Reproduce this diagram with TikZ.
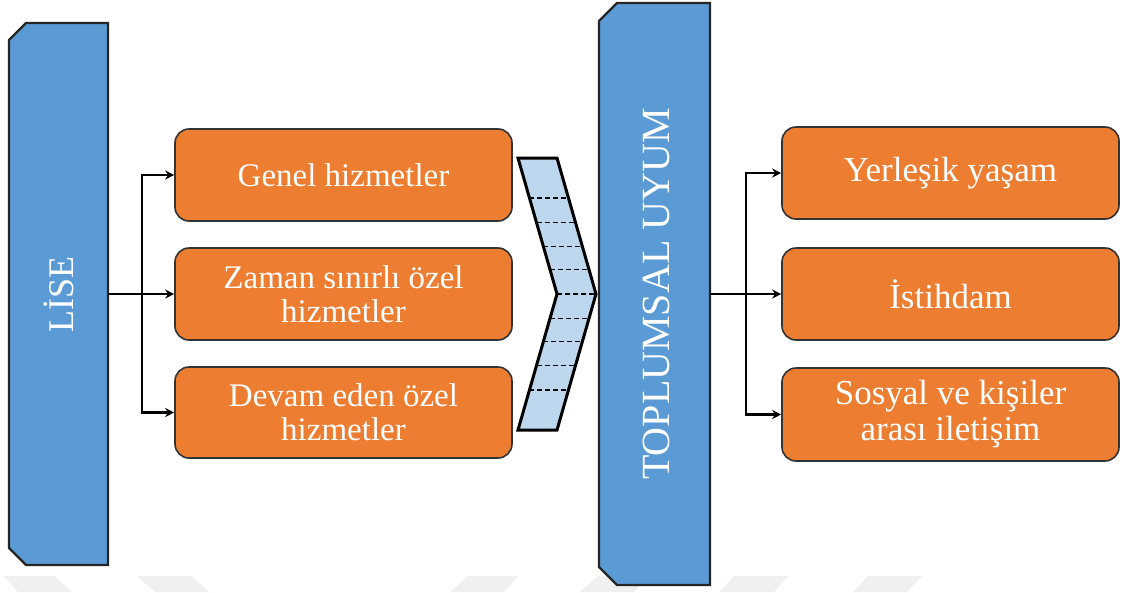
\documentclass[tikz,border=0pt]{standalone}
\usepackage{fontspec}
\setmainfont{Liberation Serif}
\usetikzlibrary{arrows.meta,calc}
\definecolor{bluebox}{HTML}{5B9BD5}
\definecolor{orangebox}{HTML}{ED7D31}
\definecolor{chevronfill}{HTML}{BDD7EE}
\definecolor{wmark}{HTML}{F0F0F0}
\tikzset{
  obox/.style={draw=black!80, line width=1.6pt, fill=orangebox, rounded corners=14pt,
    minimum width=337pt, minimum height=92pt, inner sep=0pt, align=center,
    text=white, font=\fontsize{33}{34}\selectfont},
  rbox/.style={obox, font=\fontsize{35}{36}\selectfont},
  frame/.style={minimum width=#1, inner sep=0pt, outer sep=0pt},
  bshape/.style={draw=black!85, line width=2.2pt, fill=bluebox, line join=miter},
  vtext/.style={rotate=90, text=white, inner sep=0pt},
  conn/.style={draw=black, line width=2.6pt},
  arr/.style={conn, -{Stealth[length=9pt,width=9pt]}},
  chev/.style={draw=black, line width=3pt, fill=chevronfill, line join=miter},
  stripe/.style={draw=black, line width=1.8pt, dash pattern=on 5pt off 3pt},
  wm/.style={fill=wmark, draw=none}
}
\begin{document}
\begin{tikzpicture}[x=1pt,y=-1pt]
\useasboundingbox (0,0) rectangle (1123,592);
\fill[white] (0,0) rectangle (1123,592);

% faint watermark shapes
\fill[wm] (4,576) -- (54,576) -- (72,592) -- (18,592) -- cycle;
\fill[wm] (137,576) -- (191,576) -- (209,592) -- (155,592) -- cycle;
\fill[wm] (468,576) -- (518,576) -- (504,592) -- (450,592) -- cycle;
\fill[wm] (598,576) -- (648,576) -- (634,592) -- (580,592) -- cycle;
\fill[wm] (734,576) -- (788,576) -- (774,592) -- (720,592) -- cycle;
\fill[wm] (868,576) -- (922,576) -- (907,592) -- (853,592) -- cycle;

% LISE box
\node[frame=99pt, minimum height=542pt] (lise) at (58.5,294) {};
\draw[bshape] ($(lise.north west)+(17,0)$) -- (lise.north east) -- (lise.south east)
  -- ($(lise.south west)+(17,0)$) -- ($(lise.south west)+(0,-17)$)
  -- ($(lise.north west)+(0,17)$) -- cycle;
\node[vtext, font=\fontsize{36}{36}\selectfont] (liseText) at (lise.center) {LİSE};

% TOPLUMSAL UYUM box
\node[frame=111pt, minimum height=582pt] (tu) at (654.5,294) {};
\draw[bshape] ($(tu.north west)+(18,0)$) -- (tu.north east) -- (tu.south east)
  -- ($(tu.south west)+(18,0)$) -- ($(tu.south west)+(0,-18)$)
  -- ($(tu.north west)+(0,18)$) -- cycle;
\node[vtext, font=\fontsize{40}{40}\selectfont] (tuText) at ($(tu.center)+(2,0)$) {TOPLUMSAL UYUM};

% left boxes
\node[obox] (g1) at (343.5,175) {Genel hizmetler};
\node[obox] (g2) at (343.5,294) {Zaman sınırlı özel\\hizmetler};
\node[obox, minimum height=91pt] (g3) at (343.5,412.5) {Devam eden özel\\hizmetler};

% right boxes
\node[rbox] (r1) at (950.5,173) {Yerleşik yaşam};
\node[rbox] (r2) at (950.5,294) {İstihdam};
\node[rbox, minimum height=93pt] (r3) at (950.5,414.5) {Sosyal ve kişiler\\arası iletişim};

% chevron
\draw[chev] (518,158) -- (557,158) -- (596,294) -- (557,430) -- (518,430) -- (557,294) -- cycle;
\foreach \d in {24.5,47.5,71.5,96} {
  \draw[stripe] ({557-\d*39/136},{294-\d}) -- ++(39,0);
  \draw[stripe] ({557-\d*39/136},{294+\d}) -- ++(39,0);
}
\draw[stripe] (557,294) -- (596,294);

% connectors left
\coordinate (jl) at (142,294);
\draw[conn] (lise.east) -- (jl);
\draw[arr] (jl) |- (g1.west);
\draw[arr] (jl) -- (g2.west);
\draw[arr] (jl) |- (g3.west);

% connectors right
\coordinate (jr) at (746,294);
\draw[conn] (tu.east) -- (jr);
\draw[arr] (jr) |- (r1.west);
\draw[arr] (jr) -- (r2.west);
\draw[arr] (jr) |- (r3.west);
\end{tikzpicture}
\end{document}
